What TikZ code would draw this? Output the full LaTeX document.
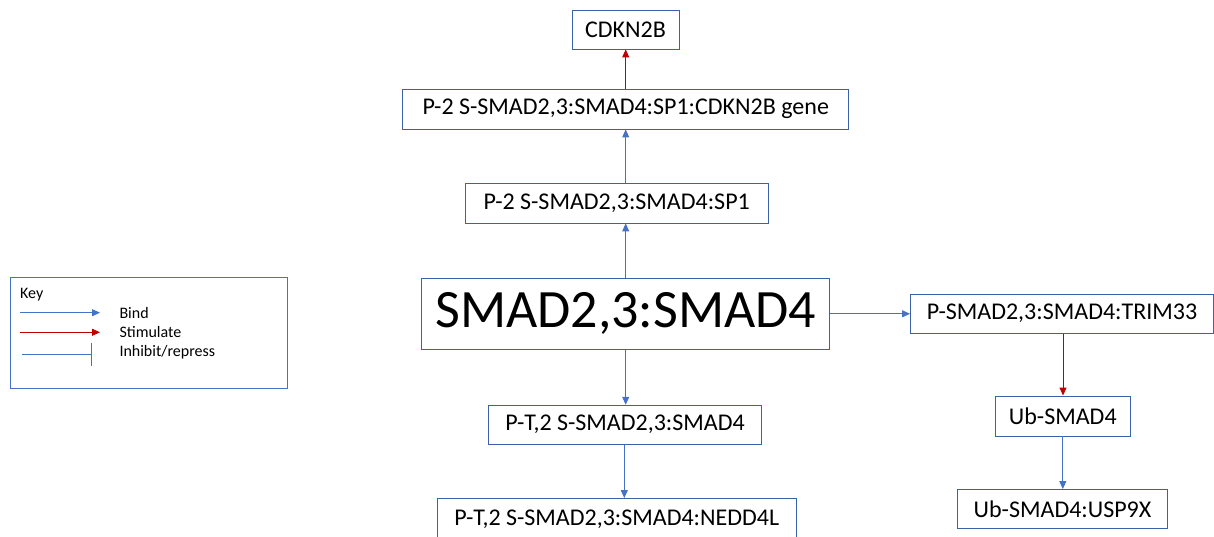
\documentclass[tikz,border=0pt]{standalone}
\usepackage{fontspec}
\setmainfont{Carlito}
\usetikzlibrary{arrows.meta}
\definecolor{boxblue}{HTML}{3A62A8}
\definecolor{lineblue}{HTML}{4472C4}
\definecolor{linered}{HTML}{C00000}
\tikzset{
  ent/.style={draw=boxblue, line width=0.9pt, fill=white, inner sep=0pt, font=\fontsize{24}{28}\selectfont},
  bind/.style={draw=lineblue, line width=0.9pt, -{Triangle[length=8pt,width=7pt]}},
  stim/.style={draw=linered, line width=0.9pt, -{Triangle[length=8pt,width=7pt]}},
  keytext/.style={anchor=west, inner sep=0pt, font=\fontsize{16}{18}\selectfont}
}
\begin{document}
\begin{tikzpicture}[x=1pt,y=-1pt]
\clip (0,0) rectangle (1214,537);
\useasboundingbox (0,0) rectangle (1214,537);
% entity boxes
\node[ent, minimum width=107pt, minimum height=39pt] (cdkn) at (625.5,29.5) {CDKN2B};
\node[ent, minimum width=446pt, minimum height=40pt] (gene) at (625.7,109) {P-2 S-SMAD2,3:SMAD4:SP1:CDKN2B gene};
\node[ent, minimum width=303pt, minimum height=40pt] (sp1) at (616.7,203) {P-2 S-SMAD2,3:SMAD4:SP1};
\node[ent, minimum width=408pt, minimum height=71pt, font=\fontsize{54}{60}\selectfont] (smad) at (625.7,313.8) {SMAD2,3:SMAD4};
\node[ent, minimum width=273pt, minimum height=39pt] (pt2) at (625,424.7) {P-T,2 S-SMAD2,3:SMAD4};
\node[ent, minimum width=359pt, minimum height=42pt] (nedd) at (616.7,519.5) {P-T,2 S-SMAD2,3:SMAD4:NEDD4L};
\node[ent, minimum width=303pt, minimum height=39pt] (trim) at (1062,313.7) {P-SMAD2,3:SMAD4:TRIM33};
\node[ent, minimum width=135pt, minimum height=40pt] (ub) at (1062.8,416) {Ub-SMAD4};
\node[ent, minimum width=210pt, minimum height=39pt] (usp) at (1062.5,509) {Ub-SMAD4:USP9X};
% connectors
\draw[bind] (smad.north) -- (smad.north |- sp1.south);
\draw[bind] (gene.south |- sp1.north) -- (gene.south);
\draw[stim] (gene.north) -- (cdkn.south -| gene.north);
\draw[bind] (smad.south) -- (smad.south |- pt2.north);
\draw[bind] (pt2.south) ++(-0.7,0) coordinate (ptb) -- (ptb |- nedd.north);
\draw[bind] (smad.east) -- (smad.east -| trim.west);
\draw[stim] (trim.south) ++(1,0) coordinate (trb) -- (trb |- ub.north);
\draw[bind] (ub.south) -- (ub.south |- usp.north);
% key
\node[draw=lineblue, line width=0.9pt, minimum width=277pt, minimum height=111pt, inner sep=0pt] (key) at (148.7,332.8) {};
\node[keytext] (keylbl) at (20,295) {Key};
\coordinate (b1) at (20,312.7); \coordinate (b2) at (100,312.7);
\coordinate (r1) at (20,332.3); \coordinate (r2) at (100,332.3);
\coordinate (i1) at (22,354.3); \coordinate (i2) at (92,354.3);
\draw[bind] (b1) -- (b2);
\draw[stim] (r1) -- (r2);
\draw[draw=lineblue, line width=0.9pt, -{Bar[width=23pt]}] (i1) -- (i2);
\node[keytext] (kb) at (119.3,313) {Bind};
\node[keytext] (ks) at (119.3,332.5) {Stimulate};
\node[keytext] (ki) at (119.3,352.5) {Inhibit/repress};
\end{tikzpicture}
\end{document}
